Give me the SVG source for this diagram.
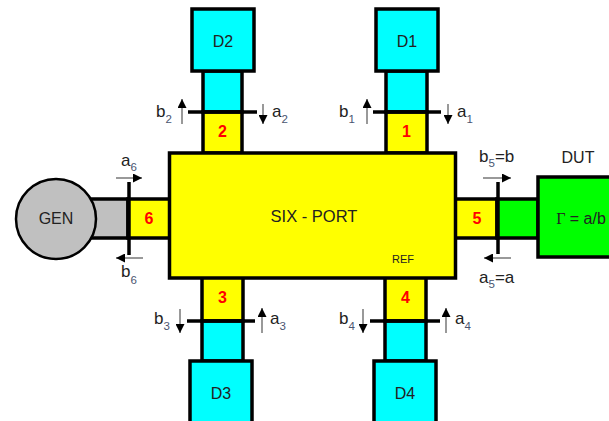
<svg xmlns="http://www.w3.org/2000/svg" width="609" height="421" viewBox="0 0 609 421">
  <style>
    .box { stroke: #000; stroke-width: 3.5; }
    .cyan { fill: #00ffff; }
    .yellow { fill: #ffff00; }
    .green { fill: #00ff00; }
    .gray { fill: #c0c0c0; }
    .ref { stroke: #000; stroke-width: 3.5; fill: none; }
    .wave { stroke: #777; stroke-width: 1.5; fill: none; marker-end: url(#head); }
    text { font-family: "Liberation Sans", Arial, sans-serif; fill: #222; }
    .lbl { font-size: 16px; text-anchor: middle; }
    .num { font-size: 16px; font-weight: bold; fill: #ff0000; text-anchor: middle; }
    .var { font-size: 17px; }
    .sub { font-size: 11.5px; fill: #4a5570; }
  </style>
  <defs>
    <marker id="head" viewBox="0 0 10 10" refX="10" refY="5" markerWidth="9" markerHeight="9" markerUnits="userSpaceOnUse" orient="auto">
      <path d="M0,0 L10,5 L0,10 z" fill="#000"/>
    </marker>
  </defs>

  <!-- port arms (drawn under the six-port body) -->
  <g id="arm2">
    <rect class="box cyan" x="203" y="71" width="39" height="41"/>
    <rect class="box yellow" x="203" y="112" width="39" height="41"/>
  </g>
  <g id="arm1">
    <rect class="box cyan" x="386" y="71" width="41" height="41"/>
    <rect class="box yellow" x="386" y="112" width="41" height="41"/>
  </g>
  <g id="arm3">
    <rect class="box yellow" x="202" y="277" width="41" height="44"/>
    <rect class="box cyan" x="202" y="321" width="41" height="40"/>
  </g>
  <g id="arm4">
    <rect class="box yellow" x="385" y="277" width="41" height="44"/>
    <rect class="box cyan" x="385" y="321" width="41" height="40"/>
  </g>
  <g id="arm6">
    <rect class="box gray" x="85" y="199" width="43" height="39"/>
    <rect class="box yellow" x="128" y="199" width="42" height="39"/>
  </g>
  <g id="arm5">
    <rect class="box yellow" x="455" y="199" width="42" height="39"/>
    <rect class="box green" x="497" y="199" width="41" height="39"/>
  </g>

  <!-- six-port body -->
  <g id="sixport">
    <rect class="box yellow" x="169.5" y="153" width="286" height="125"/>
    <text x="314" y="222" font-size="16.5" text-anchor="middle">SIX - PORT</text>
    <text x="403" y="263" font-size="11" text-anchor="middle">REF</text>
  </g>

  <!-- detectors -->
  <g id="D2">
    <rect class="box cyan" x="192" y="9" width="62" height="62"/>
    <text class="lbl" x="223" y="47">D2</text>
  </g>
  <g id="D1">
    <rect class="box cyan" x="376" y="9" width="62" height="62"/>
    <text class="lbl" x="407" y="47">D1</text>
  </g>
  <g id="D3">
    <rect class="box cyan" x="190" y="361" width="62" height="70"/>
    <text class="lbl" x="221" y="399">D3</text>
  </g>
  <g id="D4">
    <rect class="box cyan" x="374" y="361" width="62" height="70"/>
    <text class="lbl" x="405" y="399">D4</text>
  </g>

  <!-- generator -->
  <g id="GEN">
    <circle cx="56" cy="219" r="40" fill="#c0c0c0" stroke="#000" stroke-width="2.5"/>
    <text class="lbl" x="56" y="224">GEN</text>
  </g>

  <!-- device under test -->
  <g id="DUT">
    <rect class="box green" x="538" y="177" width="80" height="80"/>
    <text class="lbl" x="578" y="163">DUT</text>
    <text x="581" y="224" font-size="16" text-anchor="middle"><tspan font-family="'Liberation Serif', serif">Γ</tspan> = a/b</text>
  </g>

  <!-- port numbers -->
  <g id="port-numbers">
    <text class="num" x="222.5" y="137">2</text>
    <text class="num" x="406.5" y="137">1</text>
    <text class="num" x="222.5" y="303">3</text>
    <text class="num" x="405.5" y="303">4</text>
    <text class="num" x="149" y="224">6</text>
    <text class="num" x="477" y="224">5</text>
  </g>

  <!-- reference planes and wave arrows -->
  <g id="connectors">
    <line class="ref" x1="188" y1="112" x2="257" y2="112"/>
    <line class="ref" x1="373" y1="112" x2="441" y2="112"/>
    <line class="ref" x1="187" y1="321" x2="255" y2="321"/>
    <line class="ref" x1="370" y1="321" x2="440" y2="321"/>
    <line class="ref" x1="129" y1="182" x2="129" y2="255"/>
    <line class="ref" x1="498" y1="182" x2="498" y2="254"/>

    <line class="wave" x1="182" y1="124" x2="182" y2="99"/>
    <line class="wave" x1="263" y1="104" x2="263" y2="124"/>
    <line class="wave" x1="367" y1="124" x2="367" y2="99"/>
    <line class="wave" x1="448" y1="104" x2="448" y2="124"/>

    <line class="wave" x1="180" y1="309" x2="180" y2="333"/>
    <line class="wave" x1="262" y1="333" x2="262" y2="308"/>
    <line class="wave" x1="363" y1="309" x2="363" y2="333"/>
    <line class="wave" x1="446" y1="333" x2="446" y2="308"/>

    <line class="wave" x1="116" y1="178" x2="142" y2="178"/>
    <line class="wave" x1="143" y1="258" x2="116" y2="258"/>
    <line class="wave" x1="483" y1="178" x2="511" y2="178"/>
    <line class="wave" x1="511" y1="258" x2="484" y2="258"/>
  </g>

  <!-- wave labels -->
  <g id="wave-labels">
    <text class="var" x="156" y="117">b<tspan class="sub" dy="6">2</tspan></text>
    <text class="var" x="272" y="117">a<tspan class="sub" dy="6">2</tspan></text>
    <text class="var" x="339" y="117">b<tspan class="sub" dy="6">1</tspan></text>
    <text class="var" x="457" y="117">a<tspan class="sub" dy="6">1</tspan></text>
    <text class="var" x="154" y="324">b<tspan class="sub" dy="6">3</tspan></text>
    <text class="var" x="270" y="324">a<tspan class="sub" dy="6">3</tspan></text>
    <text class="var" x="339" y="324">b<tspan class="sub" dy="6">4</tspan></text>
    <text class="var" x="455" y="324">a<tspan class="sub" dy="6">4</tspan></text>
    <text class="var" x="121" y="166">a<tspan class="sub" dy="5">6</tspan></text>
    <text class="var" x="121" y="277">b<tspan class="sub" dy="7">6</tspan></text>
    <text class="var" x="479" y="162">b<tspan class="sub" dy="5">5</tspan><tspan dy="-5">=b</tspan></text>
    <text class="var" x="479" y="283">a<tspan class="sub" dy="5">5</tspan><tspan dy="-5">=a</tspan></text>
  </g>
</svg>
